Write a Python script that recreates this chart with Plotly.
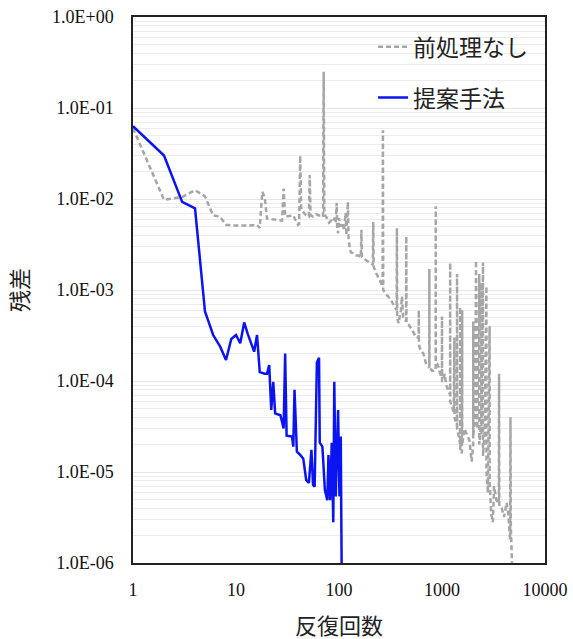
import plotly.graph_objects as go

# ---- data ----
gray_name = "前処理なし"
gray_iter = [1, 2, 3, 4, 5, 6, 7, 8, 10, 13, 16, 17, 18, 19, 20, 22, 25, 28, 29, 30,
             33, 36, 38, 40, 41, 42, 43, 46, 48, 51, 52, 53, 56, 60, 64, 68, 70, 71, 72, 75,
             78, 80, 84, 88, 90, 93, 95, 96, 98, 100, 104, 108, 112, 116, 118, 122, 124, 127, 130, 140,
             147, 155, 163, 165, 167, 175, 185, 199, 213, 215, 217, 232, 250, 265, 267, 269, 285, 300, 325, 345,
             363, 365, 367, 378, 400, 408, 420, 448, 450, 452, 472, 500, 530, 560, 593, 595, 597, 618, 660, 693,
             720, 752, 754, 756, 800, 840, 868, 870, 872, 915, 960, 998, 1000, 1002, 1028, 1060, 1100, 1150, 1198, 1200,
             1202, 1250, 1300, 1320, 1322, 1360, 1398, 1400, 1402, 1450, 1498, 1500, 1502, 1560, 1570, 1572, 1650, 1750, 1850, 1940,
             2008, 2010, 2012, 2100, 2140, 2142, 2200, 2300, 2302, 2400, 2410, 2412, 2500, 2502, 2600, 2700, 2702, 2790, 2900, 2902,
             3000, 3120, 3200, 3370, 3560, 3580, 3600, 3800, 4000, 4240, 4400, 4580, 4620, 4660, 4720, 4780]
gray_resid = [0.06, 0.0098, 0.0105, 0.0125, 0.0107, 0.0066, 0.0064, 0.0052, 0.0051, 0.0051, 0.0052, 0.0048, 0.012, 0.0105, 0.0061, 0.0060, 0.0059, 0.0058, 0.013, 0.0064,
              0.0065, 0.0066, 0.0058, 0.0052, 0.0053, 0.030, 0.0076, 0.0070, 0.0066, 0.0064, 0.0183, 0.0066, 0.0064, 0.0068, 0.0066, 0.0066, 0.0064, 0.25, 0.0068, 0.0064,
              0.0058, 0.0055, 0.0058, 0.0056, 0.0062, 0.0055, 0.0091, 0.0048, 0.0042, 0.0062, 0.0050, 0.0055, 0.0045, 0.0070, 0.0040, 0.0093, 0.0035, 0.0028, 0.0026, 0.0025,
              0.0024, 0.0024, 0.0023, 0.0046, 0.0023, 0.0022, 0.0021, 0.0020, 0.0019, 0.0056, 0.0018, 0.0015, 0.00123, 0.0011, 0.057, 0.0010, 0.0009, 0.00085, 0.00075, 0.00065,
              0.0006, 0.0048, 0.0005, 0.00043, 0.0006, 0.00085, 0.0005, 0.00045, 0.0039, 0.00044, 0.00042, 0.00038, 0.00034, 0.0003, 0.0003, 0.0006, 0.00025, 0.00022, 0.0002, 0.00016,
              0.00015, 0.00014, 0.0017, 0.00014, 0.00013, 0.00013, 0.00013, 0.0083, 0.00016, 0.00015, 0.00012, 0.00011, 0.00051, 0.0001, 0.0001, 0.00012, 0.00009, 0.000078, 0.00007, 0.002,
              0.00006, 0.000052, 0.000045, 0.0003, 0.00004, 0.000035, 0.000032, 0.0015, 0.00003, 0.000025, 0.00002, 0.00065, 0.000018, 0.000016, 0.0006, 0.00002, 0.00003, 0.000025, 0.000022, 0.000013,
              0.00002, 0.00045, 0.000025, 0.00004, 0.0021, 0.00005, 0.00003, 0.0015, 0.00002, 0.000035, 0.0012, 0.000025, 0.002, 0.000015, 0.00003, 0.0011, 0.00001, 0.0000059, 0.0004, 0.000008,
              0.0000035, 0.0000028, 0.000007, 0.0000049, 0.0000045, 0.00012, 0.0000042, 0.000004, 0.0000032, 0.0000046, 0.0000035, 0.0000018, 0.00004, 0.0000025, 0.0000016, 0.000001]

blue_name = "提案手法"
blue_iter = [1, 2, 3, 4, 5, 6, 7, 8, 9, 10, 11, 12, 13, 15, 16, 17, 19, 20, 21, 22,
             23, 24, 27, 29, 30, 31, 35, 36, 37, 39, 42, 45, 48, 51, 54, 56, 58, 61, 64, 65,
             69, 73, 77, 79, 82, 85, 88, 90, 93, 95, 98, 101, 104, 106]
blue_resid = [0.063, 0.030, 0.0093, 0.0079, 0.00058, 0.00032, 0.00024, 0.00017, 0.00029, 0.00032,
              0.00026, 0.00044, 0.00033, 0.00021, 0.00032, 0.000125, 0.00012, 0.00012, 0.00015, 0.000048,
              0.000098, 0.000044, 0.000042, 0.00003, 0.0002, 0.000025, 0.0000245, 0.000019, 0.00008, 0.0000167,
              0.0000154, 0.000014, 0.0000082, 0.0000076, 0.0000175, 0.0000072, 0.0000069, 0.00016, 0.00018, 0.000021,
              0.000019, 0.0000063, 0.0000049, 0.0000154, 0.0000049, 0.000021, 0.0000028, 0.000098, 0.0000054, 0.000011,
              0.000048, 0.0000054, 0.0000245, 0.000001]

x_tickvals = [1, 10, 100, 1000, 10000]
x_ticktext = ["1", "10", "100", "1000", "10000"]
y_tickvals = [1e-6, 1e-5, 1e-4, 1e-3, 1e-2, 1e-1, 1]
y_ticktext = ["1.0E-06", "1.0E-05", "1.0E-04", "1.0E-03", "1.0E-02", "1.0E-01", "1.0E+00"]

x_title = "反復回数"
y_title = "残差"

FONT = "Liberation Serif, Noto Sans CJK JP, serif"

fig = go.Figure()
fig.add_trace(go.Scatter(x=gray_iter, y=gray_resid, mode="lines", name=gray_name,
                         legendgroup="g",
                         line=dict(color="#a6a6a6", width=2.5, dash="5px,3px")))
fig.add_trace(go.Scatter(x=blue_iter, y=blue_resid, mode="lines", name=blue_name,
                         legendgroup="b",
                         line=dict(color="#0a14f0", width=2.5)))

fig.update_layout(
    width=573, height=639,
    margin=dict(l=133, r=28, t=17, b=76),
    paper_bgcolor="white", plot_bgcolor="white",
    font=dict(family=FONT, size=18, color="#111"),
    showlegend=True,
    legend=dict(x=0.971, y=0.985, xanchor="right", yanchor="top",
                bgcolor="rgba(0,0,0,0)", borderwidth=0,
                font=dict(size=23, family=FONT, color="#222"),
                tracegroupgap=18, traceorder="grouped"),
)
fig.update_xaxes(type="log", range=[0, 4], tickvals=x_tickvals, ticktext=x_ticktext,
                 automargin=False,
                 showgrid=False, zeroline=False, showline=True, linecolor="#222",
                 linewidth=1.5, mirror=True, ticks="", ticklabelstandoff=10,
                 tickfont=dict(size=18, family=FONT, color="#111"),
                 title=dict(text=x_title, font=dict(size=22, family=FONT, color="#222"), standoff=22))
fig.update_yaxes(type="log", range=[-6, 0], tickvals=y_tickvals, ticktext=y_ticktext,
                 automargin=False,
                 showgrid=True, gridcolor="#e6e6e6", gridwidth=1,
                 minor=dict(dtick="D1", showgrid=True, gridcolor="#ececec", gridwidth=1, ticks=""),
                 zeroline=False, showline=True, linecolor="#222",
                 linewidth=1.5, mirror=True, ticks="", ticklabelstandoff=14,
                 tickfont=dict(size=18, family=FONT, color="#111"),
                 title=dict(text=y_title, font=dict(size=22, family=FONT, color="#222"), standoff=17))

fig.write_html("out.html", config={"displayModeBar": False},
               post_script="document.body.style.margin='0';document.body.style.overflow='hidden';")
